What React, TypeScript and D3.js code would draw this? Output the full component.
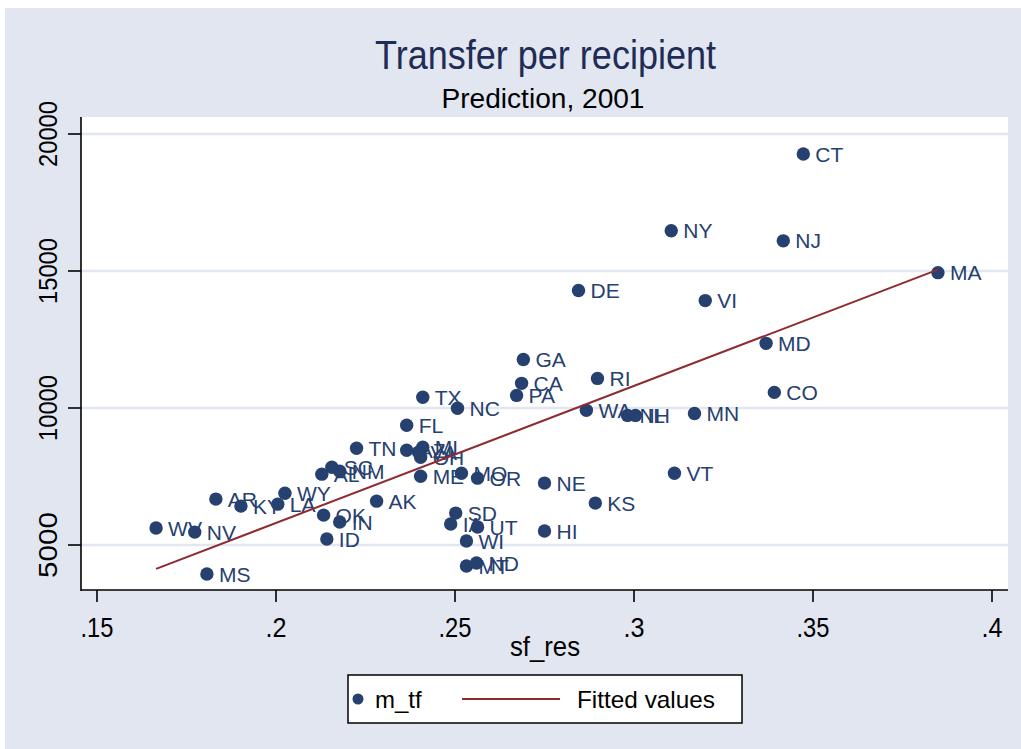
import React from "react";
import * as d3 from "d3";

const states = ["CT","NY","NJ","MA","DE","VI","MD","GA","RI","CA","PA","TX","CO","NC","WA","NH","IL","MN","FL","TN","AZ","MI","VA","OH","SC","AL","NM","ME","MO","OR","NE","VT","KS","AR","WY","KY","LA","AK","OK","IN","ID","WV","NV","MS","SD","IA","UT","WI","ND","MT","HI"];
const sfRes = [0.3473,0.3104,0.3417,0.3849,0.2845,0.3199,0.3369,0.2691,0.2898,0.2686,0.2672,0.2410,0.3392,0.2507,0.2867,0.2982,0.3004,0.3169,0.2365,0.2225,0.2365,0.2410,0.2398,0.2404,0.2156,0.2128,0.2178,0.2404,0.2518,0.2563,0.2750,0.3113,0.2892,0.1832,0.2025,0.1902,0.2005,0.2281,0.2133,0.2178,0.2142,0.1665,0.1773,0.1807,0.2502,0.2488,0.2563,0.2532,0.2560,0.2532,0.2750];
const mTf = [19270,16470,16100,14940,14290,13920,12360,11770,11080,10900,10460,10390,10570,9990,9915,9730,9730,9800,9370,8530,8460,8570,8390,8200,7840,7585,7695,7510,7620,7440,7260,7620,6530,6675,6890,6420,6490,6600,6090,5840,5220,5620,5470,3940,6165,5765,5655,5145,4345,4235,5510];

const fitX = [0.1665, 0.3849];
const fitY = [4130, 15050];

const xTicks = [0.15, 0.2, 0.25, 0.3, 0.35, 0.4];
const xTickLabels = [".15", ".2", ".25", ".3", ".35", ".4"];
const yTicks = [5000, 10000, 15000, 20000];

const W = 1021, H = 749;
const plotL = 81, plotR = 1008, plotT = 117, plotB = 590;
const NAVY = "#26406f";
const MAROON = "#8e2a30";
const BG = "#e1e6f0";
const FONT = "'Liberation Sans', Arial, sans-serif";

export default function App() {
  const x = d3.scaleLinear().domain([0.15, 0.4]).range([97, 992]);
  const y = d3.scaleLinear().domain([5000, 20000]).range([545, 134]);
  const line = d3.line<number>().x((d, i) => x(fitX[i])).y((d, i) => y(fitY[i]));
  const pts = states.map((s, i) => ({ s, xv: sfRes[i], yv: mTf[i] }));
  return (
    <svg width={W} height={H} style={{ position: "absolute", left: 0, top: 0 }} fontFamily={FONT}>
      <rect x={0} y={0} width={W} height={H} fill="#ffffff" />
      <rect x={5} y={8} width={W - 5} height={H - 8} fill={BG} />
      <rect x={plotL} y={plotT} width={plotR - plotL} height={plotB - plotT} fill="#ffffff" />
      {yTicks.map((t) => (
        <line key={"g" + t} x1={plotL} x2={plotR} y1={y(t)} y2={y(t)} stroke={BG} strokeWidth={2.5} />
      ))}
      {/* axes */}
      <line x1={plotL} x2={plotL} y1={plotT} y2={plotB + 1} stroke="#000" strokeWidth={1.6} />
      <line x1={plotL} x2={plotR} y1={plotB} y2={plotB} stroke="#000" strokeWidth={1.6} />
      {yTicks.map((t) => (
        <g key={"yt" + t}>
          <line x1={plotL - 13} x2={plotL} y1={y(t)} y2={y(t)} stroke="#000" strokeWidth={1.6} />
          <text transform={`translate(57,${y(t)}) rotate(-90)`} textAnchor="middle" fontSize={25} fill="#000"
            textLength={66} lengthAdjust="spacingAndGlyphs">
            {t}
          </text>
        </g>
      ))}
      {xTicks.map((t, i) => (
        <g key={"xt" + t}>
          <line x1={x(t)} x2={x(t)} y1={plotB} y2={plotB + 12} stroke="#000" strokeWidth={1.6} />
          <text x={x(t)} y={637} textAnchor="middle" fontSize={28} fill="#000"
            textLength={xTickLabels[i].length === 3 ? 33 : 21} lengthAdjust="spacingAndGlyphs">
            {xTickLabels[i]}
          </text>
        </g>
      ))}
      <text x={545} y={656} textAnchor="middle" fontSize={27} fill="#000" textLength={70} lengthAdjust="spacingAndGlyphs">sf_res</text>
      {/* title */}
      <text x={545.5} y={69} textAnchor="middle" fontSize={41} fill="#1f2c56" textLength={341} lengthAdjust="spacingAndGlyphs">
        Transfer per recipient
      </text>
      <text x={543} y={108} textAnchor="middle" fontSize={27} fill="#000" textLength={203} lengthAdjust="spacingAndGlyphs">
        Prediction, 2001
      </text>
      {/* points */}
      {pts.map((p) => (
        <g key={p.s}>
          <circle cx={x(p.xv)} cy={y(p.yv)} r={6.7} fill={NAVY} />
          <text x={x(p.xv) + 12} y={y(p.yv)} dy="0.36em" fontSize={21} fill={NAVY}>
            {p.s}
          </text>
        </g>
      ))}
      <path d={line(fitX) || ""} fill="none" stroke={MAROON} strokeWidth={2} />
      {/* legend */}
      <rect x={348} y={675} width={394} height={48} fill="#ffffff" stroke="#000" strokeWidth={1.5} />
      <circle cx={358} cy={699} r={5.5} fill={NAVY} />
      <text x={375} y={708} fontSize={24} fill="#000">m_tf</text>
      <line x1={462} x2={560} y1={699} y2={699} stroke={MAROON} strokeWidth={2} />
      <text x={577} y={708} fontSize={24} fill="#000" textLength={138} lengthAdjust="spacingAndGlyphs">Fitted values</text>
    </svg>
  );
}
